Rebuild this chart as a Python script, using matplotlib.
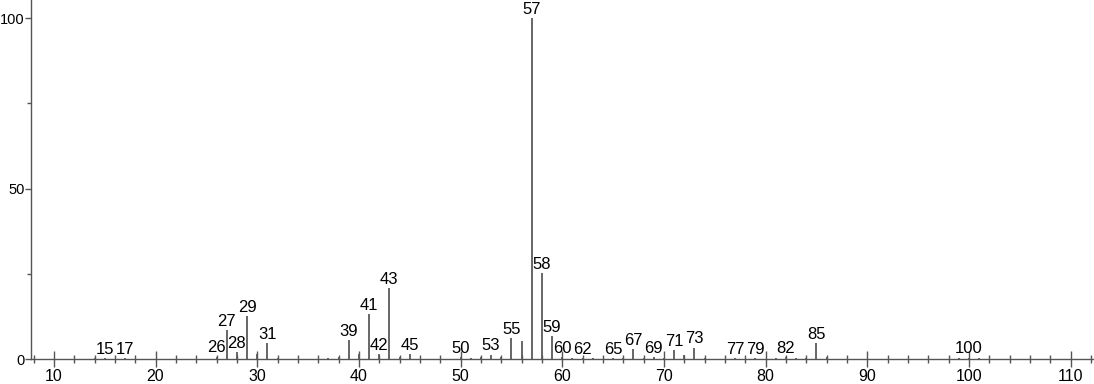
import matplotlib
matplotlib.use("Agg")
import matplotlib.pyplot as plt
from matplotlib.ticker import MultipleLocator

# m/z and relative abundance
mz = [14, 15, 17, 26, 27, 28, 29, 30, 31, 32, 37, 38, 39, 40, 41, 42, 43, 44, 45,
      50, 51, 52, 53, 54, 55, 56, 57, 58, 59, 60, 61, 62, 63, 65, 66, 67, 68, 69, 70,
      71, 72, 73, 74, 77, 79, 81, 82, 83, 84, 85, 86, 99, 100, 101]
intensity = [0.2, 0.3, 0.2, 0.7, 8.5, 2.0, 12.6, 1.4, 4.7, 0.4, 0.3, 0.6, 5.6, 1.6, 13.2, 1.5, 20.8, 0.7, 1.5,
             0.5, 0.3, 0.5, 1.3, 0.7, 6.1, 5.3, 100.0, 25.2, 6.7, 0.5, 0.2, 0.3, 0.2, 0.3, 0.3, 2.9, 0.4, 0.5, 0.4,
             2.6, 1.2, 3.3, 0.3, 0.3, 0.3, 0.2, 0.5, 0.3, 0.4, 4.6, 0.6, 0.2, 0.4, 0.2]

# peaks that carry an m/z label
labelled = [15, 17, 26, 27, 28, 29, 31, 39, 41, 42, 43, 45, 50, 53, 55, 57, 58, 59,
            60, 62, 65, 67, 69, 71, 73, 77, 79, 82, 85, 100]

plt.rcParams['font.family'] = ['Liberation Sans', 'DejaVu Sans']

fig = plt.figure(figsize=(10.94, 3.84), dpi=100)
ax = fig.add_axes([0.0283, 0.065, 0.9717, 0.935])

ax.vlines(mz, 0, intensity, color='#5a5a5a', linewidth=1.3)

for m, h in zip(mz, intensity):
    if m in labelled:
        ax.annotate(str(m), (m, h), xytext=(0, 1), textcoords='offset points',
                    ha='center', va='bottom', fontsize=12, color='black')

ax.set_xlim(7.75, 112.3)
ax.set_ylim(0, 105.3)

ax.xaxis.set_major_locator(MultipleLocator(10))
ax.xaxis.set_minor_locator(MultipleLocator(2))
ax.yaxis.set_major_locator(MultipleLocator(50))
ax.yaxis.set_minor_locator(MultipleLocator(25))

for s in ['top', 'right']:
    ax.spines[s].set_visible(False)
for s in ['left', 'bottom']:
    ax.spines[s].set_color('#555555')
    ax.spines[s].set_linewidth(1.0)

# x ticks cross the axis line, y ticks sit outside
ax.tick_params(axis='x', which='major', direction='inout', length=12, width=1,
               color='#555555', labelsize=11.5, pad=1)
ax.tick_params(axis='x', which='minor', direction='inout', length=6, width=1, color='#555555')
ax.tick_params(axis='y', which='major', direction='out', length=4, width=1,
               color='#555555', labelsize=10.5, pad=0.5)
ax.tick_params(axis='y', which='minor', direction='out', length=3, width=1, color='#555555')

fig.savefig('out.png', dpi=100)
